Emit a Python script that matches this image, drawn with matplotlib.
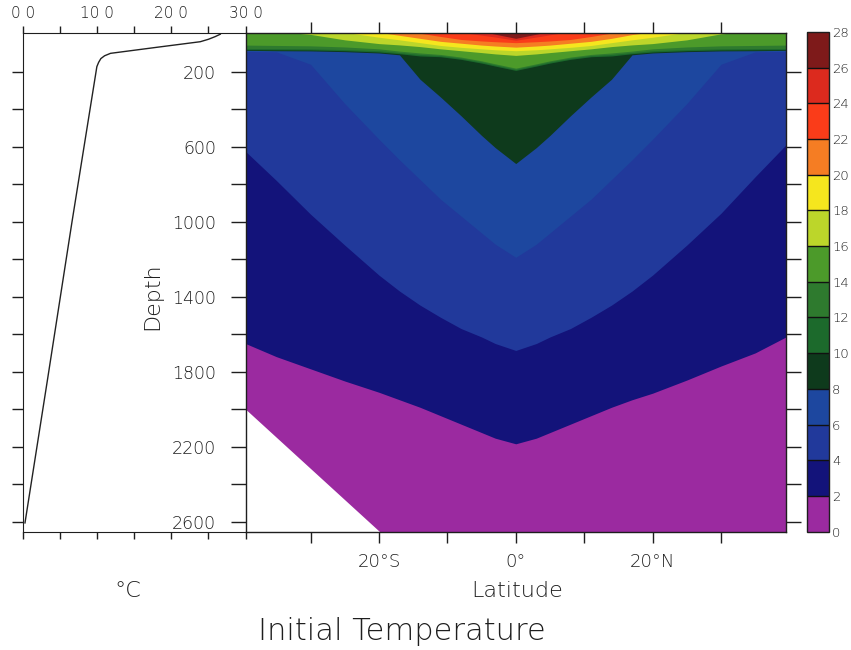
import matplotlib

matplotlib.use("Agg")
import matplotlib.pyplot as plt
from matplotlib.cm import ScalarMappable
from matplotlib.colors import BoundaryNorm, ListedColormap

# colour bands (deg C), bottom -> top
levels = [0, 2, 4, 6, 8, 10, 12, 14, 16, 18, 20, 22, 24, 26, 28]
band_colors = ["#9b2aa0", "#13137a", "#21399b", "#1d479f", "#0e3a1c", "#1c6a2c", "#2e7a2e",
               "#4c9a2a", "#bcd62a", "#f5e61e", "#f57d23", "#fa3c19", "#dc2a1e", "#7e1a1a"]

# latitude nodes of the section
lat = [-39.5, -35, -30, -25, -20, -17, -14, -11, -8, -5, -3, 0,
       3, 5, 8, 11, 14, 17, 20, 25, 30, 35, 39.5]

# depth (m) of each isotherm along the section
# (negative = isotherm lies above the surface there)
iso_02 = [1650, 1720, 1785, 1850, 1910, 1950, 1990, 2035, 2080, 2125, 2155, 2185,
          2155, 2125, 2080, 2035, 1990, 1950, 1915, 1845, 1770, 1700, 1615]
iso_04 = [625, 780, 960, 1125, 1285, 1370, 1445, 1510, 1570, 1615, 1650, 1687,
          1650, 1615, 1570, 1510, 1445, 1370, 1285, 1125, 955, 760, 590]
iso_06 = [92, 94, 160, 370, 560, 670, 775, 880, 970, 1060, 1120, 1190,
          1120, 1060, 970, 880, 775, 670, 560, 370, 160, 94, 92]
iso_08 = [86, 88, 89, 93, 100, 110, 240, 335, 435, 540, 605, 690,
          605, 540, 435, 335, 240, 110, 100, 93, 89, 88, 86]
iso_10 = [82, 83, 84, 88, 95, 104, 116, 120, 134, 154, 170, 193,
          170, 154, 134, 120, 116, 104, 95, 88, 84, 83, 82]
iso_12 = [76, 77, 78, 82, 88, 98, 108, 114, 128, 148, 164, 187,
          164, 148, 128, 114, 108, 98, 88, 82, 78, 77, 76]
iso_14 = [58, 60, 62, 68, 78, 90, 100, 108, 122, 142, 158, 181,
          158, 142, 122, 108, 100, 90, 78, 68, 62, 60, 58]
iso_16 = [-30, -15, 1, 30, 50, 57, 66, 78, 88, 98, 105, 113,
          105, 98, 88, 78, 66, 57, 50, 30, -2, -15, -30]
iso_18 = [-40, -30, -20, -10, 16, 30, 45, 60, 70, 78, 83, 88,
          83, 78, 70, 60, 45, 30, 16, -10, -20, -30, -40]
iso_20 = [-40, -40, -40, -40, -10, 6, 22, 38, 48, 58, 63, 69,
          63, 58, 48, 38, 22, 2, -12, -40, -40, -40, -40]
iso_22 = [-40, -40, -40, -40, -40, -40, -5, 12, 28, 36, 40, 45,
          40, 36, 28, 12, -6, -40, -40, -40, -40, -40, -40]
iso_24 = [-40, -40, -40, -40, -40, -40, -40, -40, -10, 5, 15, 32,
          15, 3, -15, -40, -40, -40, -40, -40, -40, -40, -40]
iso_26 = [-40, -40, -40, -40, -40, -40, -40, -40, -30, -15, 0, 22,
          0, -15, -30, -40, -40, -40, -40, -40, -40, -40, -40]

# sea floor (blanked area, lower left)
bathy_lat = [-39.5, -19.7]
bathy_depth = [2000, 2660]

# initial temperature profile (left panel)
prof_depth = [0, 13, 27, 40, 70, 102, 115, 130, 150, 173, 1003, 1844, 2607]
prof_temp = [26.6, 25.9, 25.0, 23.9, 18.0, 11.8, 11.0, 10.5, 10.2, 9.96, 6.6, 3.3, 0.27]

depth_ticks = list(range(200, 2800, 200))
depth_labels = [str(d) if d % 400 == 200 else "" for d in depth_ticks]
lat_ticks = [-30, -20, -10, 0, 10, 20, 30]
lat_labels = ["", "20°S", "", "0°", "", "20°N", ""]
temp_ticks = [0, 5, 10, 15, 20, 25, 30]
temp_labels = ["0 0", "", "10 0", "", "20 0", "", "30 0"]

ink = "#1e1e1e"
plt.rcParams["font.family"] = ["DejaVu Sans"]
plt.rcParams["font.weight"] = "light"
plt.rcParams["axes.labelweight"] = "light"
plt.rcParams["axes.labelcolor"] = ink
plt.rcParams["text.color"] = ink
plt.rcParams["axes.edgecolor"] = ink
plt.rcParams["xtick.color"] = ink
plt.rcParams["ytick.color"] = ink

fig = plt.figure(figsize=(8.51, 6.5), dpi=100)
ax_p = fig.add_axes([0.0270, 0.1811, 0.2615, 0.7677])
ax = fig.add_axes([0.2885, 0.1811, 0.6351, 0.7677])
cax = fig.add_axes([0.9483, 0.182, 0.0264, 0.769])

ymax, ymin = 2657, -5

# --- section: paint bands warm -> cold, each from its upper isotherm down
isos = [iso_02, iso_04, iso_06, iso_08, iso_10, iso_12, iso_14,
        iso_16, iso_18, iso_20, iso_22, iso_24, iso_26]
for j in range(len(band_colors) - 1, -1, -1):
    upper = -100 if j == len(isos) else isos[j]
    ax.fill_between(lat, upper, 2800, color=band_colors[j], lw=0)
ax.fill_between(bathy_lat, bathy_depth, 2800, color="white", lw=0)

ax.set_xlim(-39.5, 39.5)
ax.set_ylim(ymax, ymin)
ax.set_xticks(lat_ticks)
ax.set_xticklabels(lat_labels)
ax.set_yticks(depth_ticks)
ax.set_yticklabels(depth_labels)
ax.tick_params(axis="x", which="both", direction="out", length=8, width=1,
               top=True, labelsize=13, pad=7)
ax.tick_params(axis="y", direction="out", length=11, width=1, right=True,
               labelsize=12.5, pad=10)
ax.set_xlabel("Latitude", fontsize=16, va="center")
ax.xaxis.set_label_coords(0.502, -0.118)
ax.set_ylabel("Depth", fontsize=16, va="center")
ax.yaxis.set_label_coords(-0.173, 0.474)
for s in ax.spines.values():
    s.set_linewidth(1)

# --- profile
ax_p.plot(prof_temp, prof_depth, color="#222222", lw=1)
ax_p.set_xlim(0, 30)
ax_p.set_ylim(ymax, ymin)
ax_p.set_xticks(temp_ticks)
ax_p.set_xticklabels(temp_labels)
ax_p.set_yticks(depth_ticks)
ax_p.set_yticklabels([])
ax_p.tick_params(axis="x", direction="out", length=5, width=1, top=True,
                 labeltop=True, labelbottom=False, labelsize=11, pad=4)
ax_p.tick_params(axis="y", direction="out", length=8, width=1)
ax_p.spines["right"].set_visible(False)
ax_p.set_xlabel("°C", fontsize=16, va="center")
ax_p.xaxis.set_label_coords(0.472, -0.118)

# --- colour bar
cmap = ListedColormap(band_colors)
norm = BoundaryNorm(levels, cmap.N)
cb = fig.colorbar(ScalarMappable(norm=norm, cmap=cmap), cax=cax,
                  ticks=levels, drawedges=True)
cb.ax.tick_params(length=0, labelsize=9.5, pad=2)
cb.outline.set_linewidth(1)
cb.outline.set_edgecolor(ink)
cb.dividers.set_color("#111111")
cb.dividers.set_linewidth(1)

fig.text(402 / 851, 1 - 632 / 650, "Initial Temperature", fontsize=22,
         ha="center", va="center")

fig.savefig("out.png", dpi=100)
plt.close(fig)
